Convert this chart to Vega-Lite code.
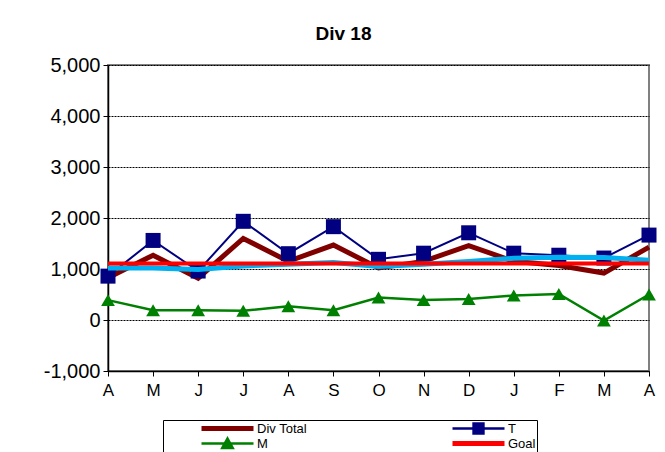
{
  "$schema": "https://vega.github.io/schema/vega-lite/v6.json",
  "autosize": "none",
  "width": 541,
  "height": 306,
  "padding": {"left": 108, "top": 65, "right": 16, "bottom": 81},
  "background": "white",
  "title": {"text": "Div 18", "font": "Liberation Sans", "fontSize": 19, "fontWeight": "bold", "color": "black", "anchor": "middle", "dx": -35, "offset": 11},
  "config": {
    "view": {"stroke": "#808080", "strokeWidth": 2},
    "font": "Liberation Sans"
  },
  "data": {"values": [
    {"m": "Apr", "series": "Div Total", "value": 830},
    {"m": "May", "series": "Div Total", "value": 1270},
    {"m": "Jun", "series": "Div Total", "value": 820},
    {"m": "Jul", "series": "Div Total", "value": 1600},
    {"m": "Aug", "series": "Div Total", "value": 1150},
    {"m": "Sep", "series": "Div Total", "value": 1470},
    {"m": "Oct", "series": "Div Total", "value": 1020},
    {"m": "Nov", "series": "Div Total", "value": 1150},
    {"m": "Dec", "series": "Div Total", "value": 1460},
    {"m": "Jan", "series": "Div Total", "value": 1150},
    {"m": "Feb", "series": "Div Total", "value": 1070},
    {"m": "Mar", "series": "Div Total", "value": 920},
    {"m": "Apr2", "series": "Div Total", "value": 1430},
    {"m": "Apr", "series": "T", "value": 860},
    {"m": "May", "series": "T", "value": 1560},
    {"m": "Jun", "series": "T", "value": 960},
    {"m": "Jul", "series": "T", "value": 1935},
    {"m": "Aug", "series": "T", "value": 1300},
    {"m": "Sep", "series": "T", "value": 1830},
    {"m": "Oct", "series": "T", "value": 1190},
    {"m": "Nov", "series": "T", "value": 1310},
    {"m": "Dec", "series": "T", "value": 1710},
    {"m": "Jan", "series": "T", "value": 1310},
    {"m": "Feb", "series": "T", "value": 1270},
    {"m": "Mar", "series": "T", "value": 1215},
    {"m": "Apr2", "series": "T", "value": 1665},
    {"m": "Apr", "series": "M", "value": 390},
    {"m": "May", "series": "M", "value": 190},
    {"m": "Jun", "series": "M", "value": 190},
    {"m": "Jul", "series": "M", "value": 180},
    {"m": "Aug", "series": "M", "value": 270},
    {"m": "Sep", "series": "M", "value": 190},
    {"m": "Oct", "series": "M", "value": 440},
    {"m": "Nov", "series": "M", "value": 390},
    {"m": "Dec", "series": "M", "value": 410},
    {"m": "Jan", "series": "M", "value": 480},
    {"m": "Feb", "series": "M", "value": 510},
    {"m": "Mar", "series": "M", "value": -10},
    {"m": "Apr2", "series": "M", "value": 500},
    {"m": "Apr", "series": "Goal", "value": 1110},
    {"m": "May", "series": "Goal", "value": 1110},
    {"m": "Jun", "series": "Goal", "value": 1110},
    {"m": "Jul", "series": "Goal", "value": 1110},
    {"m": "Aug", "series": "Goal", "value": 1110},
    {"m": "Sep", "series": "Goal", "value": 1110},
    {"m": "Oct", "series": "Goal", "value": 1110},
    {"m": "Nov", "series": "Goal", "value": 1110},
    {"m": "Dec", "series": "Goal", "value": 1110},
    {"m": "Jan", "series": "Goal", "value": 1110},
    {"m": "Feb", "series": "Goal", "value": 1110},
    {"m": "Mar", "series": "Goal", "value": 1110},
    {"m": "Apr2", "series": "Goal", "value": 1110},
    {"m": "Apr", "series": "Trend", "value": 1020},
    {"m": "May", "series": "Trend", "value": 1020},
    {"m": "Jun", "series": "Trend", "value": 990},
    {"m": "Jul", "series": "Trend", "value": 1060},
    {"m": "Aug", "series": "Trend", "value": 1095},
    {"m": "Sep", "series": "Trend", "value": 1125},
    {"m": "Oct", "series": "Trend", "value": 1050},
    {"m": "Nov", "series": "Trend", "value": 1095},
    {"m": "Dec", "series": "Trend", "value": 1145},
    {"m": "Jan", "series": "Trend", "value": 1210},
    {"m": "Feb", "series": "Trend", "value": 1230},
    {"m": "Mar", "series": "Trend", "value": 1225},
    {"m": "Apr2", "series": "Trend", "value": 1170}
  ]},
  "encoding": {
    "x": {
      "field": "m", "type": "ordinal", "sort": null,
      "scale": {"type": "point", "padding": 0},
      "axis": {
        "title": null, "labelAngle": 0,
        "labelExpr": "substring(datum.label, 0, 1)",
        "labelFont": "Liberation Sans", "labelFontSize": 17, "labelColor": "black",
        "labelPadding": 6, "tickSize": 5, "tickColor": "black", "domainColor": "black", "domainWidth": 1.5,
        "grid": false
      }
    },
    "y": {
      "field": "value", "type": "quantitative",
      "scale": {"domain": [-1000, 5000], "nice": false, "zero": false},
      "axis": {
        "title": null,
        "values": [-1000, 0, 1000, 2000, 3000, 4000, 5000],
        "labelExpr": "replace(format(datum.value, ','), '\u2212', '-')",
        "labelFont": "Liberation Sans", "labelFontSize": 20, "labelColor": "black",
        "labelPadding": 3, "tickSize": 5, "tickColor": "black", "domainColor": "black", "domainWidth": 1.5,
        "grid": true, "gridColor": "black", "gridDash": [2, 1], "gridWidth": 1, "gridOpacity": 1
      }
    }
  },
  "layer": [
    {
      "transform": [{"filter": "datum.series === 'Div Total'"}],
      "mark": {"type": "line", "strokeWidth": 5},
      "encoding": {
        "color": {
          "field": "series", "type": "nominal",
          "scale": {"domain": ["Div Total", "T", "M", "Goal"], "range": ["#800000", "#000080", "#008000", "#FF0000"]},
          "legend": {
            "orient": "none", "legendX": 55, "legendY": 355,
            "direction": "horizontal",
            "title": null, "columns": 2, "columnPadding": 108, "rowPadding": 0,
            "clipHeight": 15,
            "symbolSize": 2704, "symbolOffset": 57,
            "labelFont": "Liberation Sans", "labelFontSize": 13, "labelColor": "black", "labelOffset": 23,
            "labelExpr": "datum.label === 'T' ? datum.label + '                                      ' : datum.label",
            "labelLimit": 400,
            "strokeColor": "black", "padding": 1,
            "encode": {"symbols": {"update": {
              "shape": {"signal": "datum.value === 'T' ? 'M-1,0H1M-0.19,-0.19H0.19V0.19H-0.19Z' : datum.value === 'M' ? 'M-1,0H1M-0.2,0.17L0,-0.19L0.2,0.17Z' : 'M-1,0H1'"},
              "fill": {"signal": "datum.value === 'T' ? '#000080' : datum.value === 'M' ? '#008000' : 'transparent'"},
              "stroke": {"signal": "datum.value === 'T' ? '#000080' : datum.value === 'M' ? '#008000' : datum.value === 'Goal' ? '#FF0000' : '#800000'"},
              "strokeWidth": {"signal": "(datum.value === 'Div Total' || datum.value === 'Goal') ? 5 : 2.5"},
              "opacity": {"value": 1}
            }}}
          }
        }
      }
    },
    {
      "transform": [{"filter": "datum.series === 'T'"}],
      "mark": {"type": "line", "strokeWidth": 2},
      "encoding": {"color": {"field": "series", "type": "nominal"}}
    },
    {
      "transform": [{"filter": "datum.series === 'M'"}],
      "mark": {"type": "line", "strokeWidth": 2.5},
      "encoding": {"color": {"field": "series", "type": "nominal"}}
    },
    {
      "transform": [{"filter": "datum.series === 'T'"}],
      "mark": {"type": "point", "shape": "square", "filled": true, "opacity": 1, "size": 225},
      "encoding": {"color": {"field": "series", "type": "nominal"}}
    },
    {
      "transform": [{"filter": "datum.series === 'M'"}],
      "mark": {"type": "point", "shape": "triangle-up", "filled": true, "opacity": 1, "size": 190},
      "encoding": {"color": {"field": "series", "type": "nominal"}}
    },
    {
      "transform": [{"filter": "datum.series === 'Trend'"}],
      "mark": {"type": "line", "strokeWidth": 5, "color": "#00B0F0"},
      "encoding": {}
    },
    {
      "transform": [{"filter": "datum.series === 'Goal'"}],
      "mark": {"type": "line", "strokeWidth": 4},
      "encoding": {"color": {"field": "series", "type": "nominal"}}
    }
  ]
}
